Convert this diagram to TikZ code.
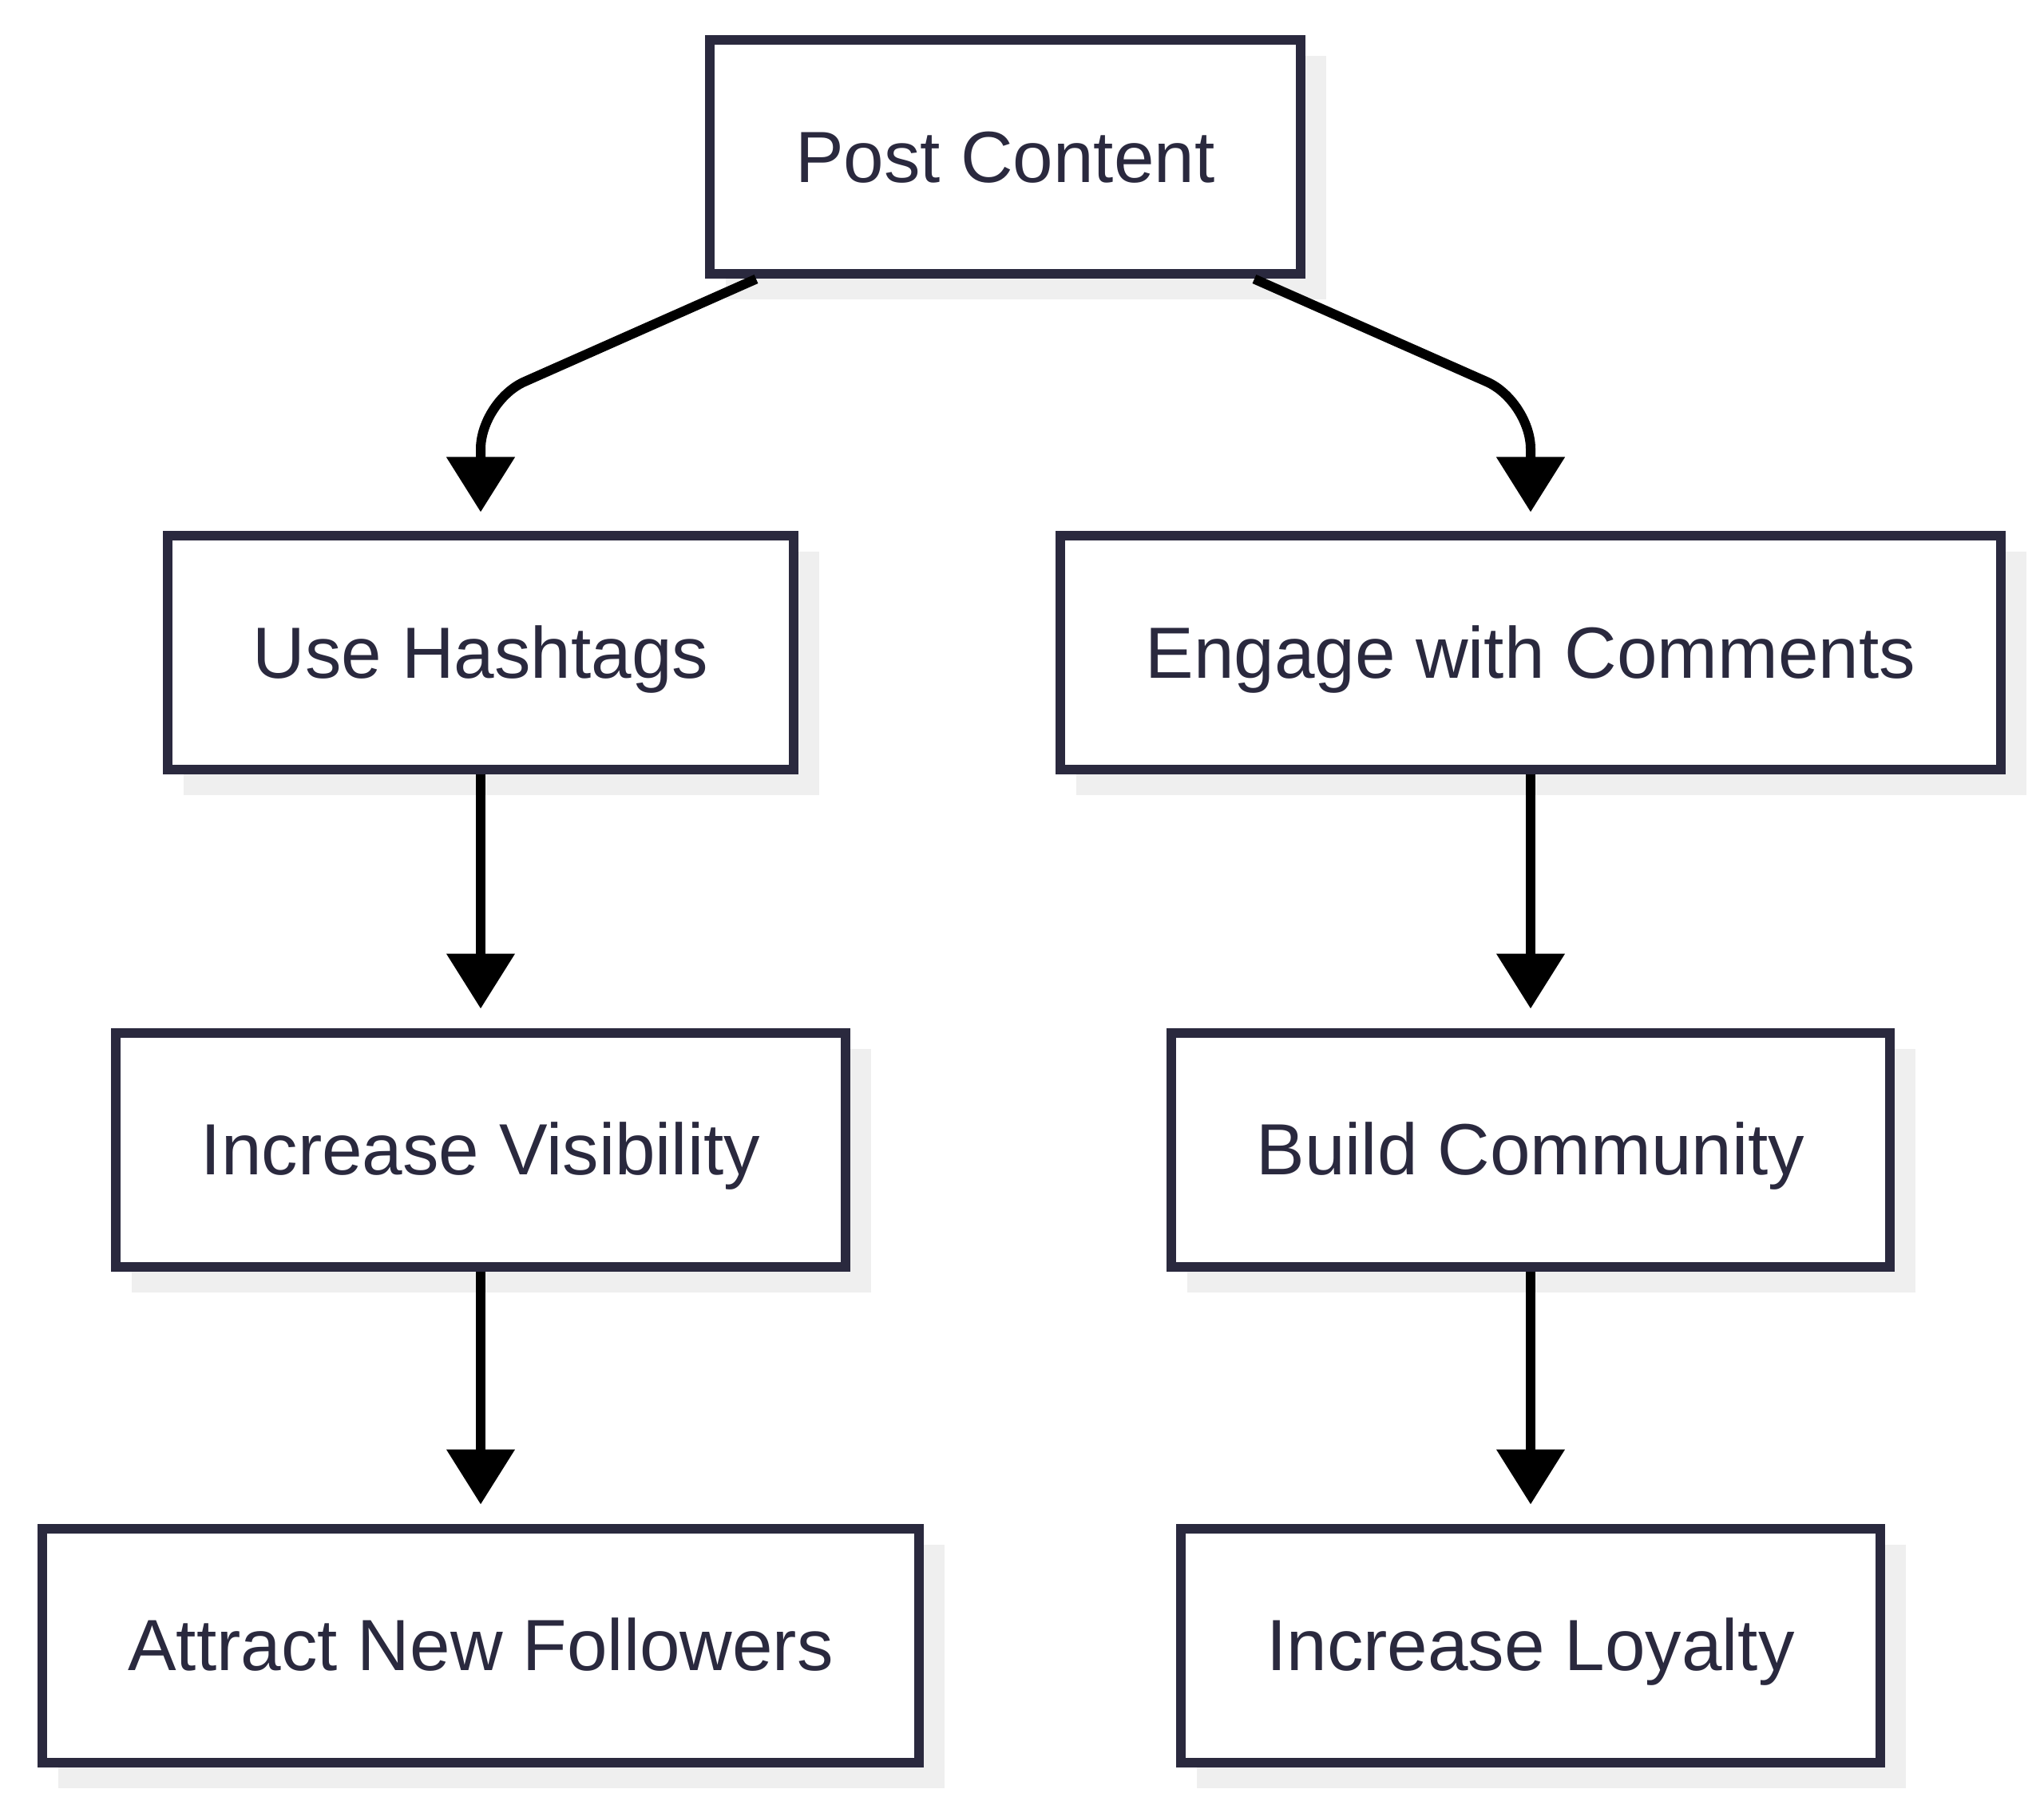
\documentclass[tikz,border=0pt]{standalone}
\usepackage{fontspec}
\setmainfont{Liberation Sans}
\usetikzlibrary{arrows.meta,shadows}
\definecolor{boxline}{RGB}{42,41,62}
\definecolor{shadowgrey}{RGB}{239,239,239}

\begin{document}
\begin{tikzpicture}[
  box/.style={draw=boxline, line width=0.12cm, fill=white, text=boxline,
    inner xsep=1.07cm, minimum height=2.93cm, text height=18.5pt, text depth=0.5pt,
    font=\fontsize{25.85}{31}\selectfont,
    drop shadow={shadow xshift=0.26cm, shadow yshift=-0.26cm, fill=shadowgrey,
      draw=shadowgrey, line width=0.12cm, opacity=1}},
  link/.style={draw=black, line width=0.12cm, -{Triangle[length=0.69cm, width=0.83cm]},
    shorten >=0.24cm}
]
\useasboundingbox (0,0) rectangle (25.6,-22.61);
\node[box] (post) at (12.59,-1.97) {Post Content};
\node[box] (hashtags) at (6.02,-8.18) {Use Hashtags};
\node[box] (comments) at (19.17,-8.18) {Engage with Comments};
\node[box] (visibility) at (6.02,-14.40) {Increase Visibility};
\node[box] (community) at (19.17,-14.40) {Build Community};
\node[box] (followers) at (6.02,-20.61) {Attract New Followers};
\node[box] (loyalty) at (19.17,-20.61) {Increase Loyalty};
\draw[link, rounded corners=0.6cm] ([xshift=-3.12cm]post.south) -- ([yshift=1.63cm]hashtags.north) -- (hashtags.north);
\draw[link, rounded corners=0.6cm] ([xshift=3.12cm]post.south) -- ([yshift=1.63cm]comments.north) -- (comments.north);
\draw[link] (hashtags) -- (visibility);
\draw[link] (visibility) -- (followers);
\draw[link] (comments) -- (community);
\draw[link] (community) -- (loyalty);
\end{tikzpicture}
\end{document}
